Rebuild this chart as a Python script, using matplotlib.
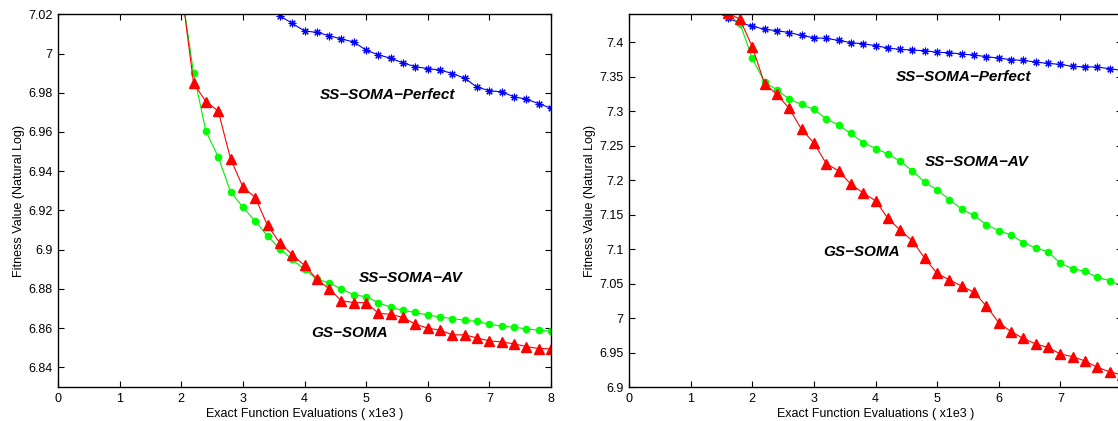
import numpy as np
import matplotlib
matplotlib.use("Agg")
import matplotlib.pyplot as plt

plt.rcParams['font.family'] = ['Liberation Sans', 'DejaVu Sans']

# ---------------- data: left panel ----------------
left_x_main = [2.0, 2.2, 2.4, 2.6, 2.8, 3.0, 3.2, 3.4, 3.6, 3.8, 4.0, 4.2, 4.4, 4.6, 4.8,
               5.0, 5.2, 5.4, 5.6, 5.8, 6.0, 6.2, 6.4, 6.6, 6.8, 7.0, 7.2, 7.4, 7.6, 7.8, 8.0]
left_gs = [7.034, 6.9848, 6.9755, 6.9707, 6.9463, 6.932, 6.9266, 6.9124, 6.9034, 6.8975, 6.892,
           6.885, 6.880, 6.874, 6.873, 6.873, 6.8676, 6.867, 6.8655, 6.862, 6.860, 6.859,
           6.8566, 6.8566, 6.855, 6.8535, 6.853, 6.852, 6.8506, 6.8496, 6.8495]
left_av = [7.033, 6.990, 6.9604, 6.9473, 6.9295, 6.9217, 6.9146, 6.907, 6.9005, 6.895, 6.890,
           6.885, 6.883, 6.880, 6.877, 6.876, 6.873, 6.8706, 6.869, 6.868, 6.8667, 6.8657,
           6.8649, 6.864, 6.8634, 6.862, 6.861, 6.8605, 6.8596, 6.859, 6.8584]
left_x_perf = [3.4, 3.6, 3.8, 4.0, 4.2, 4.4, 4.6, 4.8, 5.0, 5.2, 5.4, 5.6, 5.8, 6.0, 6.2,
               6.4, 6.6, 6.8, 7.0, 7.2, 7.4, 7.6, 7.8, 8.0]
left_perf = [7.025, 7.0192, 7.0154, 7.0115, 7.0108, 7.0091, 7.0074, 7.0059, 7.0017, 6.9993,
             6.9976, 6.9952, 6.9933, 6.9923, 6.9916, 6.9898, 6.9874, 6.9828, 6.9811, 6.9804,
             6.9780, 6.9767, 6.9745, 6.9721]

# ---------------- data: right panel ----------------
right_x = [1.4, 1.6, 1.8, 2.0, 2.2, 2.4, 2.6, 2.8, 3.0, 3.2, 3.4, 3.6, 3.8, 4.0, 4.2, 4.4,
           4.6, 4.8, 5.0, 5.2, 5.4, 5.6, 5.8, 6.0, 6.2, 6.4, 6.6, 6.8, 7.0, 7.2, 7.4, 7.6,
           7.8, 8.0]
right_perf = [7.447, 7.4350, 7.4284, 7.4235, 7.4189, 7.4170, 7.4142, 7.4100, 7.4067, 7.4058,
              7.4029, 7.3995, 7.3980, 7.3952, 7.3918, 7.3898, 7.3889, 7.3879, 7.3855, 7.3850,
              7.3830, 7.3816, 7.3792, 7.3772, 7.3748, 7.3738, 7.3714, 7.3695, 7.3680, 7.3651,
              7.3646, 7.3642, 7.3617, 7.3593]
right_av = [7.470, 7.4400, 7.4276, 7.3768, 7.3426, 7.3308, 7.3177, 7.3099, 7.3027, 7.2891,
            7.2799, 7.2678, 7.2547, 7.2460, 7.2383, 7.2276, 7.2136, 7.1970, 7.1860, 7.1720,
            7.1577, 7.1490, 7.1355, 7.1268, 7.1205, 7.1094, 7.1016, 7.0963, 7.0794, 7.0717,
            7.0678, 7.0591, 7.0543, 7.0465]
right_gs = [7.470, 7.4430, 7.4334, 7.3937, 7.3400, 7.3245, 7.3041, 7.2736, 7.2542, 7.2242,
            7.2136, 7.1942, 7.1816, 7.1703, 7.1447, 7.1278, 7.1118, 7.0867, 7.0649, 7.0552,
            7.0465, 7.0373, 7.0175, 6.9933, 6.9803, 6.9706, 6.9624, 6.9575, 6.9479, 6.9440,
            6.9377, 6.9285, 6.9222, 6.9174]

x_ticks = [0, 1, 2, 3, 4, 5, 6, 7, 8]
left_yticks = [6.84, 6.86, 6.88, 6.9, 6.92, 6.94, 6.96, 6.98, 7.0, 7.02]
left_ylabels = ["6.84", "6.86", "6.88", "6.9", "6.92", "6.94", "6.96", "6.98", "7", "7.02"]
right_yticks = [6.9, 6.95, 7.0, 7.05, 7.1, 7.15, 7.2, 7.25, 7.3, 7.35, 7.4]
right_ylabels = ["6.9", "6.95", "7", "7.05", "7.1", "7.15", "7.2", "7.25", "7.3", "7.35", "7.4"]

W, H = 1118, 421
fig = plt.figure(figsize=(W / 100, H / 100), dpi=100)

def make_ax(left_px):
    ax = fig.add_axes([left_px / W, (H - 387) / H, 493 / W, (387 - 14.3) / H])
    return ax

def style(ax, yticks, ylabels, ylim):
    ax.set_xlim(0, 8)
    ax.set_ylim(*ylim)
    ax.set_xticks(x_ticks)
    ax.set_xticklabels([str(t) for t in x_ticks])
    ax.set_yticks(yticks)
    ax.set_yticklabels(ylabels)
    ax.tick_params(direction='in', top=True, right=True, length=4, width=0.8,
                   labelsize=9, pad=4, colors='black')
    for s in ax.spines.values():
        s.set_linewidth(1.0)
    ax.set_xlabel("Exact Function Evaluations ( x1e3 )", fontsize=9, labelpad=2.5)
    ax.set_ylabel("Fitness Value (Natural Log)", fontsize=9, labelpad=2)

ast = (8, 2, 0)
lw = 0.8
txt = dict(fontsize=11, fontweight='bold', fontstyle='italic', ha='center', va='center')

ax1 = make_ax(58)
ax1.plot(left_x_perf, left_perf, color='#0000ff', lw=lw, marker=ast, ms=5.5, mew=0.8)
ax1.plot(left_x_main, left_av, color='#00ee00', lw=lw, marker='o', ms=4.5,
         mfc='#00ff00', mec='#00ff00')
ax1.plot(left_x_main, left_gs, color='#ff0000', lw=lw, marker='^', ms=7,
         mfc='#ff0000', mec='#ff0000')
style(ax1, left_yticks, left_ylabels, (6.83, 7.02))
ax1.text(5.34, 6.979, "SS\u2212SOMA\u2212Perfect", **txt)
ax1.text(5.73, 6.8856, "SS\u2212SOMA\u2212AV", **txt)
ax1.text(4.73, 6.8577, "GS\u2212SOMA", **txt)

ax2 = make_ax(629)
ax2.plot(right_x, right_perf, color='#0000ff', lw=lw, marker=ast, ms=5.5, mew=0.8)
ax2.plot(right_x, right_av, color='#00ee00', lw=lw, marker='o', ms=4.5,
         mfc='#00ff00', mec='#00ff00')
ax2.plot(right_x, right_gs, color='#ff0000', lw=lw, marker='^', ms=7,
         mfc='#ff0000', mec='#ff0000')
style(ax2, right_yticks, right_ylabels, (6.9, 7.4407))
ax2.text(5.43, 7.35, "SS\u2212SOMA\u2212Perfect", **txt)
ax2.text(5.65, 7.2267, "SS\u2212SOMA\u2212AV", **txt)
ax2.text(3.78, 7.0952, "GS\u2212SOMA", **txt)

fig.savefig("out.png", dpi=100)
